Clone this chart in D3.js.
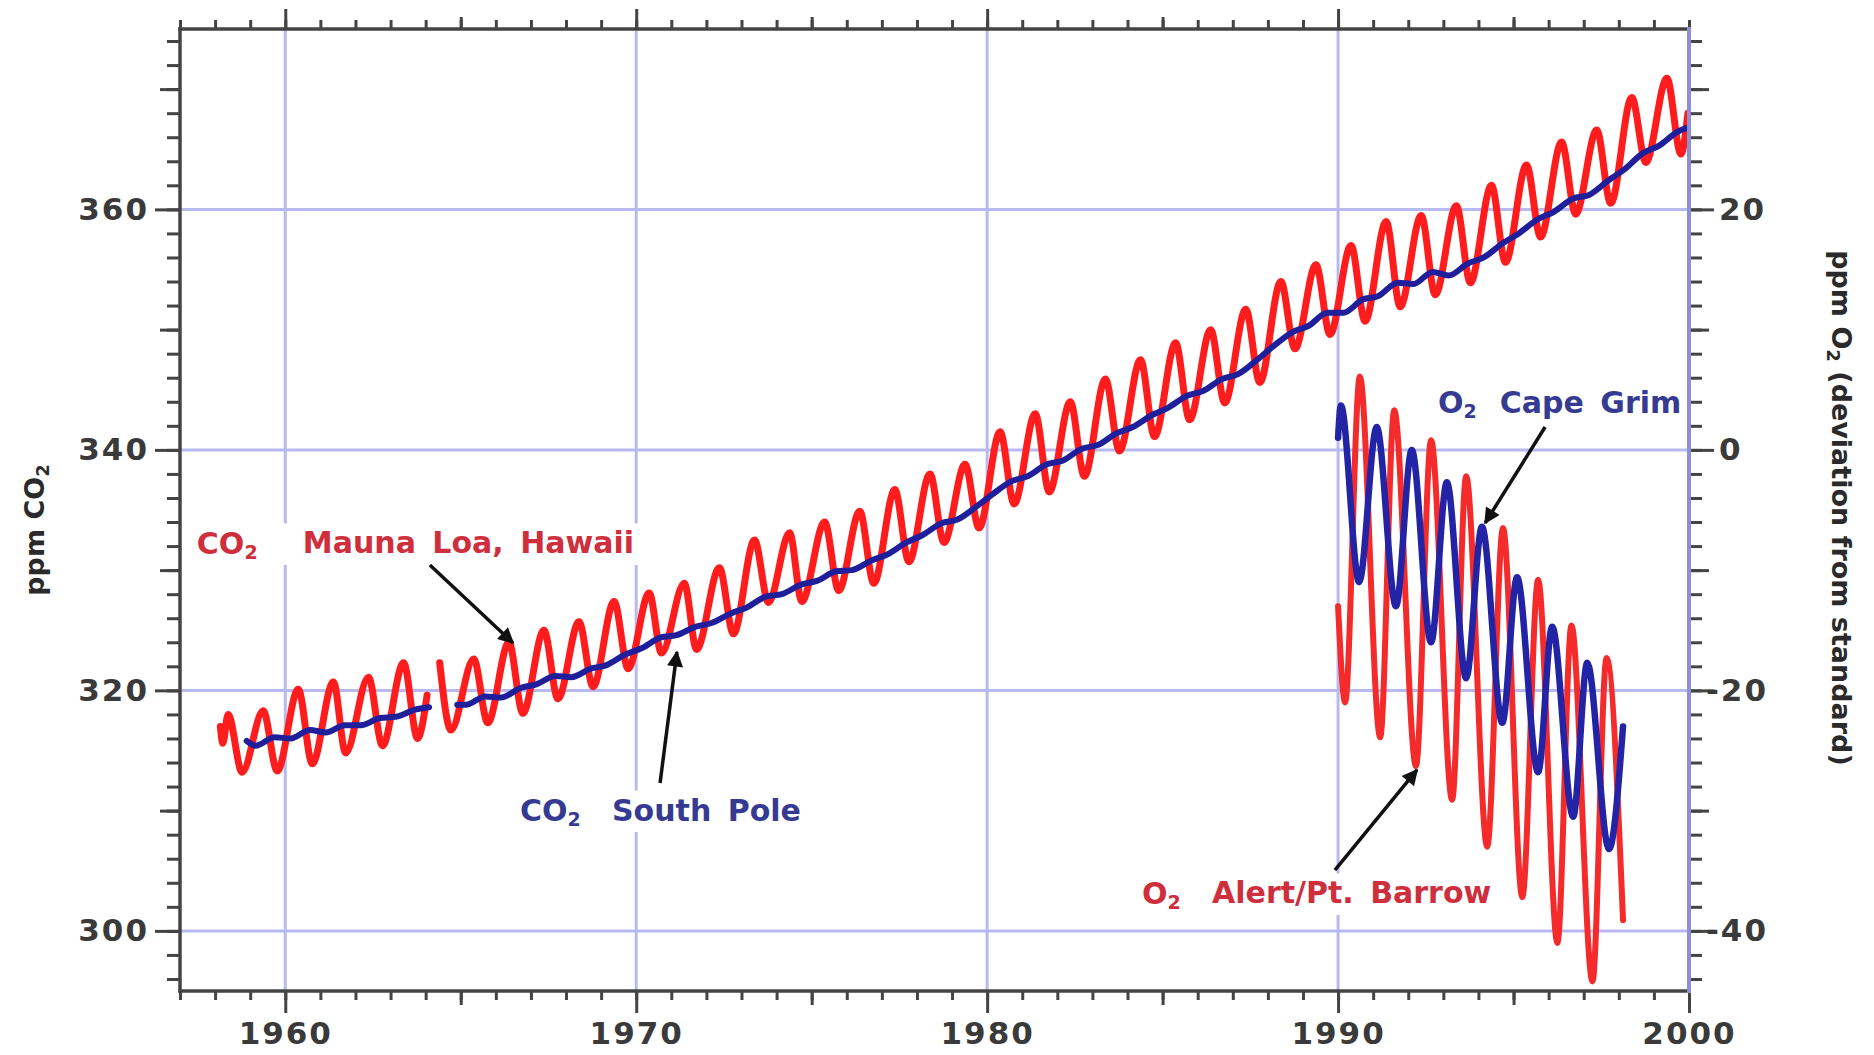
<!DOCTYPE html>
<html>
<head>
<meta charset="utf-8">
<script src="https://cdn.jsdelivr.net/npm/d3@7"></script>
<style>
  body { margin: 0; background: #fff; }
  svg text { font-family: "DejaVu Sans", Verdana, sans-serif; font-weight: bold; }
</style>
</head>
<body>
<div id="root"></div>
<script>
// ---- data ----
const yearTicks = [1960, 1970, 1980, 1990, 2000]
const co2Ticks = [300, 320, 340, 360]
const o2Ticks = [-40, -20, 0, 20]

// CO2 Mauna Loa [year, ppm], null = break in record
const maunaLoa = [
  [1958.15, 317.0], [1958.22, 315.6], [1958.37, 318.0], [1958.77, 313.2],
  [1959.37, 318.3], [1959.77, 313.3], [1960.37, 320.1], [1960.77, 313.9],
  [1961.37, 320.7], [1961.72, 314.8], [1962.37, 321.1], [1962.77, 315.4],
  [1963.37, 322.3], [1963.77, 316.0], [1964.04, 319.6], [1964.2, null],
  [1964.40, 322.3], [1964.72, 316.7], [1965.37, 322.6], [1965.77, 317.3],
  [1966.37, 324.0], [1966.77, 318.1], [1967.37, 325.0], [1967.77, 319.3],
  [1968.37, 325.7], [1968.77, 320.3], [1969.37, 327.4], [1969.77, 321.8],
  [1970.37, 328.1], [1970.72, 323.1], [1971.37, 328.9], [1971.72, 323.4],
  [1972.37, 330.2], [1972.77, 324.7], [1973.37, 332.5], [1973.77, 327.3],
  [1974.37, 333.1], [1974.72, 327.4], [1975.37, 334.0], [1975.77, 328.3],
  [1976.37, 334.9], [1976.77, 328.9], [1977.37, 336.7], [1977.77, 330.7],
  [1978.37, 338.0], [1978.77, 332.3], [1979.37, 338.8], [1979.77, 333.5],
  [1980.37, 341.5], [1980.77, 335.5], [1981.37, 343.0], [1981.77, 336.5],
  [1982.37, 344.0], [1982.77, 337.8], [1983.37, 345.9], [1983.77, 339.9],
  [1984.37, 347.5], [1984.77, 341.1], [1985.37, 348.9], [1985.77, 342.5],
  [1986.37, 350.0], [1986.77, 343.9], [1987.37, 351.7], [1987.77, 345.6],
  [1988.37, 354.0], [1988.77, 348.4], [1989.37, 355.4], [1989.77, 349.6],
  [1990.37, 357.0], [1990.77, 350.7], [1991.37, 359.0], [1991.77, 351.9],
  [1992.37, 359.5], [1992.77, 352.9], [1993.37, 360.3], [1993.77, 353.9],
  [1994.37, 362.0], [1994.77, 355.6], [1995.37, 363.7], [1995.77, 357.7],
  [1996.37, 365.6], [1996.77, 359.6], [1997.37, 366.6], [1997.77, 360.5],
  [1998.37, 369.3], [1998.77, 363.9], [1999.37, 370.9], [1999.77, 364.6],
  [1999.97, 368.0]
]

// CO2 South Pole [year, ppm]
const southPole = [
  [1958.9, 315.8], [1959.15, 315.4], [1959.7, 316.1], [1960.15, 316.0], [1960.7, 316.7],
  [1961.15, 316.5], [1961.7, 317.1], [1962.15, 317.1], [1962.7, 317.7], [1963.15, 317.8],
  [1963.7, 318.4], [1964.1, 318.6], [1964.5, null],
  [1964.9, 318.8], [1965.15, 318.8], [1965.7, 319.5], [1966.15, 319.4], [1966.7, 320.2],
  [1967.15, 320.5], [1967.7, 321.2], [1968.15, 321.1], [1968.7, 321.8], [1969.15, 322.1],
  [1969.7, 323.0], [1970.15, 323.5], [1970.7, 324.4], [1971.15, 324.6], [1971.7, 325.3],
  [1972.15, 325.6], [1972.7, 326.4], [1973.15, 326.9], [1973.7, 327.8], [1974.15, 328.0],
  [1974.7, 328.8], [1975.15, 329.1], [1975.7, 329.9], [1976.15, 330.0], [1976.7, 330.8],
  [1977.15, 331.3], [1977.7, 332.3], [1978.15, 332.9], [1978.7, 333.9], [1979.15, 334.2],
  [1979.7, 335.3], [1980.15, 336.3], [1980.7, 337.4], [1981.15, 337.8], [1981.7, 338.8],
  [1982.15, 339.1], [1982.7, 340.1], [1983.15, 340.4], [1983.7, 341.4], [1984.15, 341.9],
  [1984.7, 342.9], [1985.15, 343.5], [1985.7, 344.5], [1986.15, 344.9], [1986.7, 345.9],
  [1987.15, 346.3], [1987.7, 347.5], [1988.15, 348.6], [1988.7, 349.8], [1989.15, 350.3],
  [1989.7, 351.4], [1990.15, 351.4], [1990.7, 352.5], [1991.15, 352.8], [1991.7, 353.9],
  [1992.15, 353.8], [1992.7, 354.8], [1993.15, 354.5], [1993.7, 355.5], [1994.15, 356.0],
  [1994.7, 357.2], [1995.15, 358.0], [1995.7, 359.2], [1996.15, 359.8], [1996.7, 360.9],
  [1997.15, 361.2], [1997.7, 362.4], [1998.15, 363.3], [1998.7, 364.7], [1999.15, 365.3],
  [1999.7, 366.5], [1999.97, 366.8]
]

// O2 Cape Grim [year, ppm deviation]
const capeGrim = [
  [1990.0, 1.0], [1990.08, 3.7], [1990.6, -11.0], [1991.1, 1.9], [1991.65, -13.0],
  [1992.1, 0.0], [1992.65, -16.0], [1993.1, -2.7], [1993.65, -19.0], [1994.1, -6.4],
  [1994.68, -22.7], [1995.1, -10.6], [1995.7, -26.8], [1996.1, -14.7], [1996.7, -30.5],
  [1997.1, -17.7], [1997.72, -33.2], [1998.12, -23.0]
]

// O2 Alert / Pt. Barrow [year, ppm deviation]
const barrow = [
  [1990.0, -13.0], [1990.2, -21.0], [1990.62, 6.1], [1991.2, -23.9], [1991.6, 3.3],
  [1992.22, -26.3], [1992.65, 0.8], [1993.25, -29.1], [1993.65, -2.2], [1994.25, -33.0],
  [1994.7, -6.5], [1995.25, -37.2], [1995.7, -10.8], [1996.25, -41.0], [1996.65, -14.6],
  [1997.25, -44.2], [1997.65, -17.3], [1998.12, -39.1]
]

// annotation texts, anchored in data units (axis: which y scale)
const labelTexts = [
  { head: "CO", rest: "Mauna Loa, Hawaii", x: 1957.48, x2: 1960.5, y: 332.26, axis: "co2", kind: "red" },
  { head: "CO", rest: "South Pole", x: 1966.69, x2: 1969.31, y: 310.05, axis: "co2", kind: "blue" },
  { head: "O", rest: "Cape Grim", x: 1992.85, x2: 1994.61, y: 3.98, axis: "o2", kind: "blue" },
  { head: "O", rest: "Alert/Pt. Barrow", x: 1984.41, x2: 1986.41, y: -36.85, axis: "o2", kind: "red" }
]
const arrowLines = [
  { from: [1964.12, 330.43], to: [1966.49, 323.94], axis: "co2" },
  { from: [1970.68, 312.30], to: [1971.16, 323.19], axis: "co2" },
  { from: [1995.90, 1.90], to: [1994.19, -6.08], axis: "o2" },
  { from: [1989.91, -34.94], to: [1992.25, -26.62], axis: "o2" }
]

function drawChart() {
  const ROOT_ELEM = d3.select("#root")
  ROOT_ELEM.selectAll("*").remove()

  // 1. area
  const wrapper = { width: 1874, height: 1055, margin: { top: 29, right: 185, bottom: 64, left: 180 } }
  const bound = {
    width: wrapper.width - wrapper.margin.left - wrapper.margin.right,
    height: wrapper.height - wrapper.margin.top - wrapper.margin.bottom
  }

  const Wrapper = ROOT_ELEM.append("svg")
    .attr("width", wrapper.width)
    .attr("height", wrapper.height)
    .style("display", "block")
    .style("background", "#fff")

  const Bound = Wrapper.append("g")
    .attr("transform", `translate(${wrapper.margin.left},${wrapper.margin.top})`)

  // 2. scales
  const xScale = d3.scaleLinear().domain([1957, 2000]).range([0, bound.width])
  const yScale = d3.scaleLinear().domain([295, 375]).range([bound.height, 0])
  const o2Scale = d3.scaleLinear().domain([-45, 35]).range([bound.height, 0])
  const pick = axis => axis === "o2" ? o2Scale : yScale

  const gridColor = "#b9b9f2"
  const inkColor = "#444"
  const colors = {
    red: "#cf2e3c", blue: "#353b92",
    mlo: "#ff1c1c", spo: "#1f1f9c", o2red: "#f52a2a", o2blue: "#2323a6"
  }

  // 3. grid
  Bound.append("g").selectAll("line")
    .data(yearTicks.filter(d => d < 2000))
    .join("line")
    .attr("x1", d => xScale(d)).attr("x2", d => xScale(d))
    .attr("y1", 0).attr("y2", bound.height)
    .attr("stroke", gridColor).attr("stroke-width", 3)
  Bound.append("g").selectAll("line")
    .data(co2Ticks)
    .join("line")
    .attr("x1", 0).attr("x2", bound.width)
    .attr("y1", d => yScale(d)).attr("y2", d => yScale(d))
    .attr("stroke", gridColor).attr("stroke-width", 3)

  const LabelBg = Bound.append("g")
  const Lines = Bound.append("g")
  const Labels = Bound.append("g")

  // 4. series
  const lineGen = scale => d3.line()
    .defined(d => d[1] !== null)
    .x(d => xScale(d[0]))
    .y(d => scale(d[1]))
    .curve(d3.curveMonotoneX)

  const series = [
    { data: maunaLoa, scale: yScale, color: colors.mlo, width: 7 },
    { data: southPole, scale: yScale, color: colors.spo, width: 6 },
    { data: barrow, scale: o2Scale, color: colors.o2red, width: 6 },
    { data: capeGrim, scale: o2Scale, color: colors.o2blue, width: 6.5 }
  ]
  Lines.selectAll("path")
    .data(series)
    .join("path")
    .attr("d", s => lineGen(s.scale)(s.data))
    .attr("fill", "none")
    .attr("stroke", s => s.color)
    .attr("stroke-width", s => s.width)
    .attr("stroke-linejoin", "round")
    .attr("stroke-linecap", "round")

  // 5. annotations
  labelTexts.forEach(l => {
    const scale = pick(l.axis)
    const g = Labels.append("g").attr("fill", colors[l.kind])
    const t1 = g.append("text")
      .attr("x", xScale(l.x)).attr("y", scale(l.y))
      .attr("dominant-baseline", "central")
      .style("font-size", "30px")
    t1.append("tspan").text(l.head)
    t1.append("tspan").text("2").attr("dy", 9).style("font-size", "19px")
    g.append("text")
      .attr("x", xScale(l.x2)).attr("y", scale(l.y))
      .attr("dominant-baseline", "central")
      .style("font-size", "30px")
      .style("word-spacing", "6px")
      .text(l.rest)
    const box = g.node().getBBox()
    LabelBg.append("rect")
      .attr("x", box.x - 6).attr("y", box.y - 2)
      .attr("width", box.width + 12).attr("height", box.height + 4)
      .attr("fill", "#fff")
  })

  const defs = Wrapper.append("defs")
  defs.append("marker")
    .attr("id", "arrowHead")
    .attr("viewBox", "0 0 10 10")
    .attr("refX", 9).attr("refY", 5)
    .attr("markerWidth", 8).attr("markerHeight", 4.6)
    .attr("markerUnits", "strokeWidth")
    .attr("orient", "auto")
    .append("path").attr("d", "M0,0 L10,5 L0,10 z").attr("fill", "#111")

  Bound.append("g").selectAll("line")
    .data(arrowLines)
    .join("line")
    .attr("x1", d => xScale(d.from[0])).attr("y1", d => pick(d.axis)(d.from[1]))
    .attr("x2", d => xScale(d.to[0])).attr("y2", d => pick(d.axis)(d.to[1]))
    .attr("stroke", "#111").attr("stroke-width", 3.5)
    .attr("marker-end", "url(#arrowHead)")

  // 6. axes
  const styleAxis = g => {
    g.select(".domain").remove()
    g.selectAll("line").attr("stroke", inkColor).attr("stroke-width", 3)
    g.selectAll("text")
      .attr("fill", "#3a3a3a")
      .style("font-size", "31px")
      .style("letter-spacing", "2px")
  }
  const everyYear = d3.range(1957, 2001)
  const fiveYears = [1965, 1975, 1985, 1995]
  const co2Minor = d3.range(296, 376, 2)
  const co2Mid = [310, 330, 350, 370]
  const o2Minor = d3.range(-44, 36, 2)
  const o2Mid = [-30, -10, 10, 30]

  const bottom = Bound.append("g").attr("transform", `translate(0,${bound.height})`)
  bottom.append("g").call(d3.axisBottom(xScale).tickValues(everyYear).tickSize(9).tickFormat("")).call(styleAxis)
  bottom.append("g").call(d3.axisBottom(xScale).tickValues(fiveYears).tickSize(14).tickFormat("")).call(styleAxis)
  bottom.append("g").call(d3.axisBottom(xScale).tickValues(yearTicks).tickSize(22).tickPadding(9).tickFormat(d3.format("d"))).call(styleAxis)

  const top = Bound.append("g")
  top.append("g").call(d3.axisTop(xScale).tickValues(everyYear).tickSize(9).tickFormat("")).call(styleAxis)
  top.append("g").call(d3.axisTop(xScale).tickValues(fiveYears).tickSize(12).tickFormat("")).call(styleAxis)
  top.append("g").call(d3.axisTop(xScale).tickValues(yearTicks.filter(d => d < 2000)).tickSize(20).tickFormat("")).call(styleAxis)

  const left = Bound.append("g")
  left.append("g").call(d3.axisLeft(yScale).tickValues(co2Minor).tickSize(13).tickFormat("")).call(styleAxis)
  left.append("g").call(d3.axisLeft(yScale).tickValues(co2Mid).tickSize(20).tickFormat("")).call(styleAxis)
  left.append("g").call(d3.axisLeft(yScale).tickValues(co2Ticks).tickSize(25).tickPadding(6)).call(styleAxis)

  const right = Bound.append("g").attr("transform", `translate(${bound.width},0)`)
  right.append("g").call(d3.axisRight(o2Scale).tickValues(o2Minor).tickSize(13).tickFormat("")).call(styleAxis)
  right.append("g").call(d3.axisRight(o2Scale).tickValues(o2Mid).tickSize(20).tickFormat("")).call(styleAxis)
  right.append("g").call(d3.axisRight(o2Scale).tickValues(o2Ticks).tickSize(25).tickPadding(5).tickFormat(d => d < 0 ? `-${-d}` : `${d}`))
    .call(styleAxis)
    .selectAll("text").attr("dx", d => d < 0 ? -13 : 0)

  // frame
  const frame = Bound.append("g").attr("stroke-width", 3.5).attr("stroke-linecap", "square")
  frame.append("line").attr("x1", 0).attr("x2", 0).attr("y1", 0).attr("y2", bound.height).attr("stroke", inkColor)
  frame.append("line").attr("x1", 0).attr("x2", bound.width).attr("y1", 0).attr("y2", 0).attr("stroke", inkColor)
  frame.append("line").attr("x1", 0).attr("x2", bound.width).attr("y1", bound.height).attr("y2", bound.height).attr("stroke", inkColor)
  frame.append("line").attr("x1", bound.width).attr("x2", bound.width).attr("y1", 0).attr("y2", bound.height).attr("stroke", "#8f8fd6").attr("stroke-width", 4)

  // 7. axis titles
  const leftTitle = Wrapper.append("text")
    .attr("transform", `translate(34, 530) rotate(-90)`)
    .attr("text-anchor", "middle")
    .attr("dominant-baseline", "central")
    .attr("fill", "#2a2a2a")
    .style("font-size", "27px")
  leftTitle.append("tspan").text("ppm CO")
  leftTitle.append("tspan").text("2").attr("dy", 8).style("font-size", "18px")

  const rightTitle = Wrapper.append("text")
    .attr("transform", `translate(1842, 508) rotate(90)`)
    .attr("text-anchor", "middle")
    .attr("dominant-baseline", "central")
    .attr("fill", "#2a2a2a")
    .style("font-size", "27px")
  rightTitle.append("tspan").text("ppm O")
  rightTitle.append("tspan").text("2").attr("dy", 8).style("font-size", "18px")
  rightTitle.append("tspan").text(" (deviation from standard)").attr("dy", -8)
}

drawChart()
</script>
</body>
</html>
